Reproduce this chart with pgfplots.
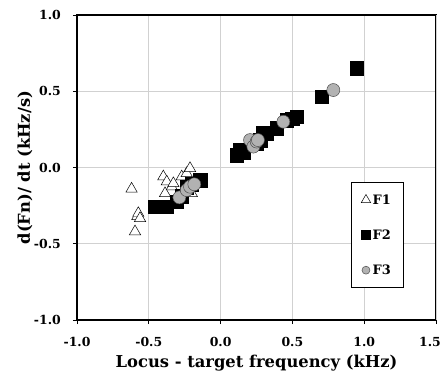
\documentclass[border=0pt]{standalone}
\usepackage{pgfplots}
\pgfplotsset{compat=1.18}
\usepackage{fontspec}
\setmainfont{DejaVu Serif}
\begin{document}
\begin{tikzpicture}
\begin{axis}[
  scale only axis,
  width=359bp, height=305bp,
  xmin=-1, xmax=1.5, ymin=-1, ymax=1,
  xtick={-1,-0.5,0,0.5,1},
  extra x ticks={1.5},
  extra x tick style={xticklabel style={xshift=-6bp}},
  ytick={-1,-0.5,0,0.5,1},
  /pgf/number format/fixed,
  /pgf/number format/fixed zerofill,
  /pgf/number format/precision=1,
  /pgf/number format/assume math mode=true,
  tick label style={font=\fontsize{12.5}{14}\selectfont\bfseries, inner sep=0pt},
  xticklabel style={anchor=base, yshift=-22bp},
  yticklabel style={anchor=east, xshift=-12bp},
  grid=major,
  major grid style={draw=black!18, line width=0.9pt},
  axis line style={line width=1.3pt},
  tick align=outside,
  tick pos=left,
  major tick length=4bp,
  tick style={black, line width=0.9pt},
  xlabel={Locus - target frequency (kHz)},
  ylabel={d(Fn)/ dt (kHz/s)},
  label style={font=\fontsize{16.4}{18}\selectfont\bfseries},
  xlabel style={at={(rel axis cs:0.5,0)}, anchor=base, yshift=-47bp, inner sep=0pt},
  ylabel style={at={(rel axis cs:-0.1448,0.5)}, anchor=center, inner sep=0pt},
  legend style={at={(0.763,0.452)}, anchor=north west, draw=black, line width=0.6pt,
    font=\fontsize{13}{14}\selectfont\bfseries, row sep=20bp, inner xsep=10bp, inner ysep=10bp,
    cells={anchor=west}},
  legend cell align=left,
  clip=false,
]
\coordinate (ll) at (rel axis cs:0,0);
\coordinate (ur) at (rel axis cs:1,1);
\addplot[only marks, mark=triangle*, mark size=6.5bp, mark options={fill=white, draw=black, line width=0.5pt},
  legend image post style={mark size=5.5bp}] coordinates {
(-0.62,-0.14) (-0.596,-0.42) (-0.58,-0.32) (-0.573,-0.30) (-0.561,-0.333)
(-0.399,-0.06) (-0.387,-0.17) (-0.375,-0.093) (-0.34,-0.126) (-0.329,-0.104)
(-0.271,-0.06) (-0.236,-0.038) (-0.213,-0.005) (-0.2,-0.17)
};
\addlegendentry{F1}
\addplot[only marks, mark=square*, mark size=6.8bp, mark options={fill=black, draw=black},
  legend image post style={mark size=4.5bp}] coordinates {
(-0.457,-0.257) (-0.424,-0.257) (-0.375,-0.257) (-0.306,-0.224) (-0.27,-0.19)
(-0.236,-0.13) (-0.2,-0.11) (-0.143,-0.082)
(0.112,0.082) (0.135,0.115) (0.158,0.1) (0.251,0.159) (0.274,0.18)
(0.297,0.224) (0.32,0.224) (0.39,0.257) (0.46,0.31) (0.5,0.32) (0.53,0.333)
(0.704,0.464) (0.948,0.65)
};
\addlegendentry{F2}
\addplot[only marks, mark=*, mark size=6.5bp, mark options={fill=black!30, draw=black!70, line width=0.5pt},
  legend image post style={mark size=4bp}] coordinates {
(-0.287,-0.196) (-0.236,-0.148) (-0.213,-0.126) (-0.183,-0.11)
(0.205,0.18) (0.228,0.137) (0.251,0.17) (0.26,0.18) (0.437,0.3) (0.785,0.508)
};
\addlegendentry{F3}
\end{axis}
\pgfresetboundingbox
\useasboundingbox ([xshift=-77bp,yshift=-54bp]ll) rectangle ([xshift=9bp,yshift=15bp]ur);
\end{tikzpicture}
\end{document}
